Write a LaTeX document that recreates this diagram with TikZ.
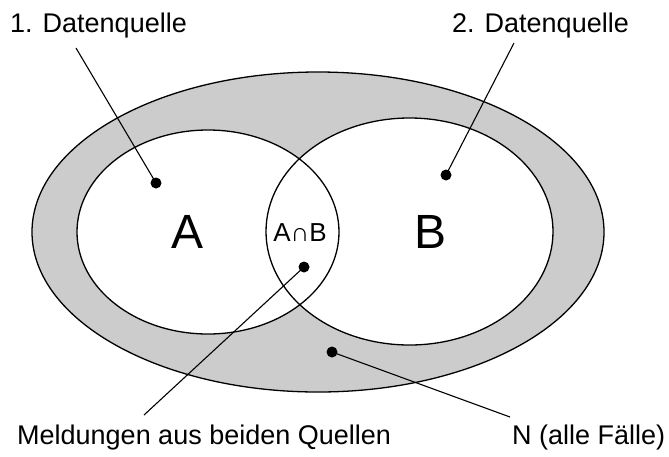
\documentclass[tikz,border=0pt]{standalone}
\usepackage{fontspec}
\setsansfont{Liberation Sans}
\usepackage{tikz}
\usetikzlibrary{shapes.geometric}
\definecolor{schatten}{RGB}{204,204,204}
\tikzset{
  menge/.style={ellipse, inner sep=0pt, outer sep=0pt},
  rand/.style={draw=black, line width=1.3pt},
  punkt/.style={circle, fill=black, inner sep=0pt, minimum size=11pt},
  zeiger/.style={draw=black, line width=1.1pt},
  lbl/.style={font=\sffamily\fontsize{27}{30}\selectfont, inner sep=0pt},
  gross/.style={font=\sffamily\fontsize{48}{50}\selectfont, inner sep=0pt}
}
\begin{document}
\begin{tikzpicture}[x=1pt, y=-1pt]
    \useasboundingbox (0,0) rectangle (669,456);

    % Grundgesamtheit und Datenquellen
    \node[menge, rand, fill=schatten, minimum width=572pt, minimum height=320pt] (N) at (318,232) {};
    \node[menge, fill=white, minimum width=262pt, minimum height=204pt] (A) at (208,232) {};
    \node[menge, fill=white, minimum width=287pt, minimum height=227pt] (B) at (409.5,231.5) {};
    \draw[rand] (A.center) ellipse [x radius=131pt, y radius=102pt];
    \draw[rand] (B.center) ellipse [x radius=143.5pt, y radius=113.5pt];

    \node[gross] (tA) at (188,232) {A};
    \node[gross] (tB) at (431,232) {B};
    \node[lbl, font=\sffamily\fontsize{26}{28}\selectfont] (tAB) at (300,233) {A∩B};

    % Punkte
    \node[punkt] (pA) at (156,183) {};
    \node[punkt] (pB) at (446,175) {};
    \node[punkt] (pAB) at (304,267) {};
    \node[punkt] (pN) at (332,352) {};

    % Beschriftungen
    \node[lbl, anchor=base west] (q1) at (10,32) {1. Datenquelle};
    \node[lbl, anchor=base west] (q2) at (452,32) {2. Datenquelle};
    \node[lbl, anchor=base west] (mb) at (17,444) {Meldungen aus beiden Quellen};
    \node[lbl, anchor=base west] (nf) at (512,444) {N (alle Fälle)};

    \coordinate (e1) at (76,48);
    \coordinate (e2) at (514,43);
    \coordinate (e3) at (144,415);
    \coordinate (e4) at (510,417);

    \draw[zeiger] (e1) -- (pA.center);
    \draw[zeiger] (e2) -- (pB.center);
    \draw[zeiger] (e3) -- (pAB.center);
    \draw[zeiger] (e4) -- (pN.center);
\end{tikzpicture}
\end{document}
